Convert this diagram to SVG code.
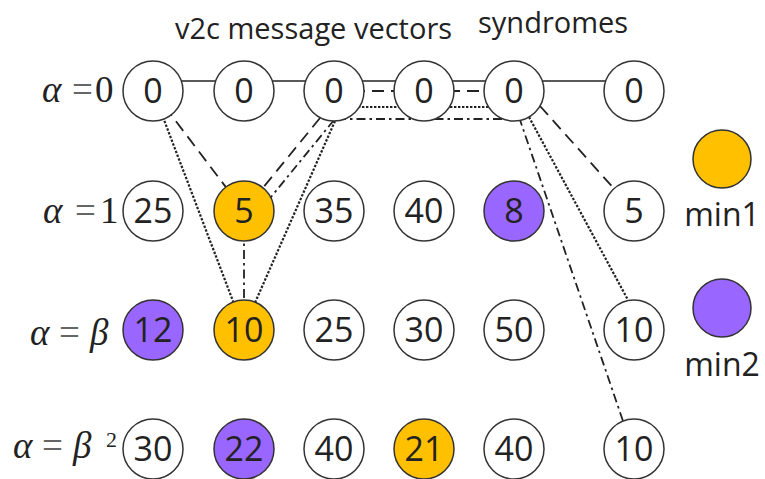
<svg xmlns="http://www.w3.org/2000/svg" width="765" height="479" viewBox="0 0 765 479">
<style>
.n{stroke:#333;stroke-width:1.5;fill:#fff}
.o{fill:#FFC000}
.p{fill:#9966FF}
.t{font-family:"Open Sans","Noto Sans",sans-serif;font-size:34px;fill:#222;text-anchor:middle}
.h{font-family:"Open Sans","Noto Sans",sans-serif;font-size:29px;fill:#222}
.lg{font-family:"Open Sans","Noto Sans",sans-serif;font-size:32px;fill:#222;text-anchor:middle}
.g{font-family:"Liberation Serif","Times New Roman",serif;font-size:37px;fill:#222}
.gi{font-style:italic}
.eq{fill:#666}
.c{fill:none;stroke:#222;stroke-width:1.8}
.solid{stroke-width:1.6}
.ld{stroke-dasharray:12 7}
.dt{stroke-dasharray:2.4 1.6;stroke-width:2.2}
.dd{stroke-dasharray:9 4 2.5 4}
</style>
<rect width="765" height="479" fill="#fff"/>
<text class="h" x="175" y="39">v2c message vectors</text>
<text class="h" x="478" y="33">syndromes</text>
<g id="row-labels">
<text class="g" y="102"><tspan class="gi" x="42">α</tspan><tspan class="eq" x="72">=</tspan><tspan x="95">0</tspan></text>
<text class="g" y="223"><tspan class="gi" x="43">α</tspan><tspan class="eq" x="75">=</tspan><tspan x="100">1</tspan></text>
<text class="g" y="345"><tspan class="gi" x="30">α</tspan><tspan class="eq" x="59">=</tspan><tspan class="gi" x="90">β</tspan></text>
<text class="g" y="458"><tspan class="gi" x="13">α</tspan><tspan class="eq" x="42">=</tspan><tspan class="gi" x="73">β</tspan><tspan x="106" y="447" font-size="22">2</tspan></text>
</g>
<g id="connectors">
<line class="c solid" x1="153" y1="81" x2="634" y2="81"/>
<line class="c ld" x1="334" y1="91" x2="514" y2="91"/>
<line class="c dt" x1="334" y1="107" x2="514" y2="107"/>
<line class="c dd" x1="337" y1="119" x2="522" y2="119"/>
<line class="c ld" x1="153" y1="91" x2="244" y2="211"/>
<line class="c dt" x1="153" y1="91" x2="244" y2="330"/>
<line class="c ld" x1="320" y1="118" x2="244" y2="211"/>
<line class="c dd" x1="334" y1="120" x2="262" y2="208"/>
<line class="c dt" x1="335" y1="121" x2="254" y2="305"/>
<line class="c dd" x1="244" y1="211" x2="244" y2="330"/>
<line class="c ld" x1="540" y1="106" x2="634" y2="211"/>
<line class="c dt" x1="529" y1="117" x2="628" y2="300"/>
<line class="c dd" x1="519" y1="117" x2="623" y2="421"/>
</g>
<g id="n-0-0"><circle class="n" cx="153" cy="91" r="30"/><text class="t" x="153" y="103">0</text></g>
<g id="n-0-1"><circle class="n" cx="244" cy="91" r="30"/><text class="t" x="244" y="103">0</text></g>
<g id="n-0-2"><circle class="n" cx="334" cy="91" r="30"/><text class="t" x="334" y="103">0</text></g>
<g id="n-0-3"><circle class="n" cx="424" cy="91" r="30"/><text class="t" x="424" y="103">0</text></g>
<g id="n-0-4"><circle class="n" cx="514" cy="91" r="30"/><text class="t" x="514" y="103">0</text></g>
<g id="s-0"><circle class="n" cx="634" cy="91" r="30"/><text class="t" x="634" y="103">0</text></g>

<g id="n-1-0"><circle class="n" cx="153" cy="211" r="30"/><text class="t" x="153" y="223">25</text></g>
<g id="n-1-1"><circle class="n o" cx="244" cy="211" r="30"/><text class="t" x="244" y="223">5</text></g>
<g id="n-1-2"><circle class="n" cx="334" cy="211" r="30"/><text class="t" x="334" y="223">35</text></g>
<g id="n-1-3"><circle class="n" cx="424" cy="211" r="30"/><text class="t" x="424" y="223">40</text></g>
<g id="n-1-4"><circle class="n p" cx="514" cy="211" r="30"/><text class="t" x="514" y="223">8</text></g>
<g id="s-1"><circle class="n" cx="634" cy="211" r="30"/><text class="t" x="634" y="223">5</text></g>

<g id="n-2-0"><circle class="n p" cx="153" cy="330" r="30"/><text class="t" x="153" y="342">12</text></g>
<g id="n-2-1"><circle class="n o" cx="244" cy="330" r="30"/><text class="t" x="244" y="342">10</text></g>
<g id="n-2-2"><circle class="n" cx="334" cy="330" r="30"/><text class="t" x="334" y="342">25</text></g>
<g id="n-2-3"><circle class="n" cx="424" cy="330" r="30"/><text class="t" x="424" y="342">30</text></g>
<g id="n-2-4"><circle class="n" cx="514" cy="330" r="30"/><text class="t" x="514" y="342">50</text></g>
<g id="s-2"><circle class="n" cx="634" cy="330" r="30"/><text class="t" x="634" y="342">10</text></g>

<g id="n-3-0"><circle class="n" cx="153" cy="449" r="30"/><text class="t" x="153" y="461">30</text></g>
<g id="n-3-1"><circle class="n p" cx="244" cy="449" r="30"/><text class="t" x="244" y="461">22</text></g>
<g id="n-3-2"><circle class="n" cx="334" cy="449" r="30"/><text class="t" x="334" y="461">40</text></g>
<g id="n-3-3"><circle class="n o" cx="424" cy="449" r="30"/><text class="t" x="424" y="461">21</text></g>
<g id="n-3-4"><circle class="n" cx="514" cy="449" r="30"/><text class="t" x="514" y="461">40</text></g>
<g id="s-3"><circle class="n" cx="634" cy="449" r="30"/><text class="t" x="634" y="461">10</text></g>

<g id="legend-min1"><circle class="n o" cx="722" cy="159" r="29"/><text class="lg" x="722" y="226">min1</text></g>
<g id="legend-min2"><circle class="n p" cx="722" cy="308" r="29"/><text class="lg" x="722" y="376">min2</text></g>
</svg>
